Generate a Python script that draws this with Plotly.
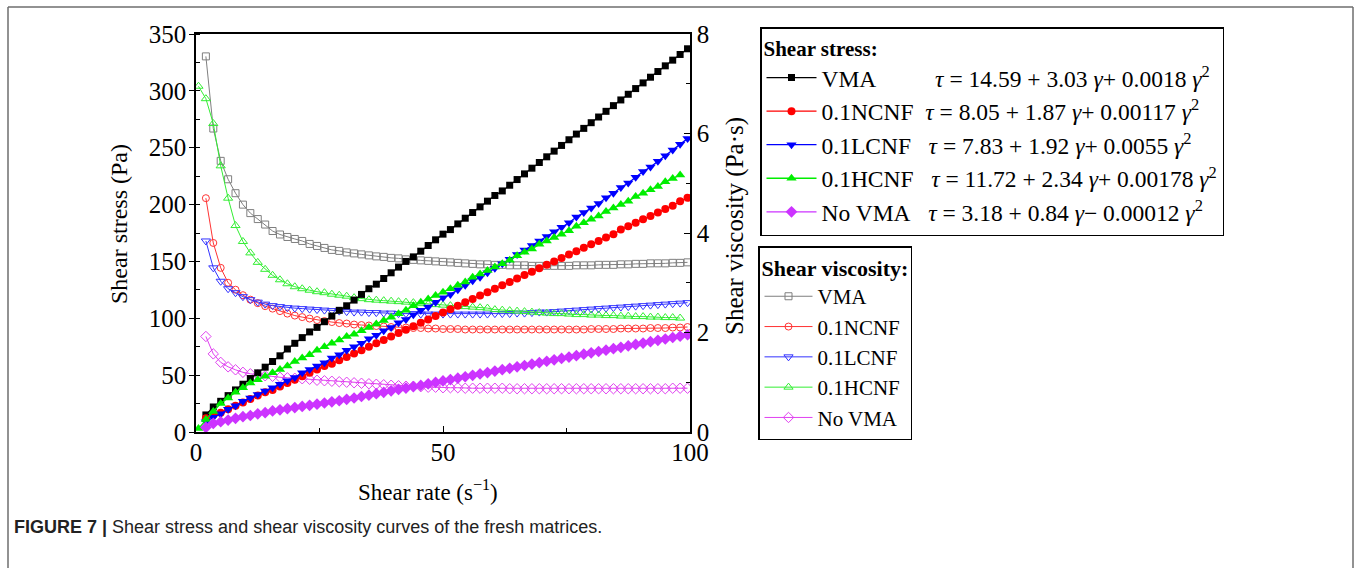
import plotly.graph_objects as go

# ---------------- data ----------------
shear_rate = [2, 3.5, 5, 6.5, 8, 9.5, 11, 12.5, 14, 15.5, 17,
              18.5, 20, 21.5, 23, 24.5, 26, 27.5, 29, 30.5, 32, 33.5,
              35, 36.5, 38, 39.5, 41, 42.5, 44, 45.5, 47, 48.5, 50,
              51.5, 53, 54.5, 56, 57.5, 59, 60.5, 62, 63.5, 65, 66.5,
              68, 69.5, 71, 72.5, 74, 75.5, 77, 78.5, 80, 81.5, 83,
              84.5, 86, 87.5, 89, 90.5, 92, 93.5, 95, 96.5, 98, 99.5]

shear_rate_hcnf = [0.5, 2, 3.5, 5, 6.5, 8, 9.5, 11, 12.5, 14, 15.5,
                   17, 18.5, 20, 21.5, 23, 24.5, 26, 27.5, 29, 30.5, 32,
                   33.5, 35, 36.5, 38, 39.5, 41, 42.5, 44, 45.5, 47, 48.5,
                   50, 51.5, 53, 54.5, 56, 57.5, 59, 60.5, 62, 63.5, 65,
                   66.5, 68, 69.5, 71, 72.5, 74, 75.5, 77, 78.5, 80, 81.5,
                   83, 84.5, 86, 87.5, 89, 90.5, 92, 93.5, 95, 96.5, 98]

# shear stress (Pa)
stress_vma = [15, 22, 27, 32, 37, 42, 47, 52, 57, 62, 67,
              73, 78, 83, 88, 92, 97, 102, 107, 111, 116, 121,
              126, 130, 135, 140, 145, 150, 154, 159, 164, 169, 174,
              178, 183, 188, 193, 198, 203, 208, 212, 217, 222, 227,
              232, 237, 242, 247, 252, 257, 262, 267, 272, 277, 282,
              287, 292, 297, 302, 307, 312, 317, 322, 327, 332, 337]
stress_ncnf = [12, 15, 17, 20, 23, 26, 29, 32, 35, 37, 40,
               43, 46, 49, 52, 55, 58, 60, 63, 66, 69, 72,
               75, 78, 81, 84, 87, 90, 93, 96, 99, 102, 105,
               108, 111, 114, 117, 120, 123, 126, 129, 132, 135, 138,
               141, 144, 147, 150, 153, 156, 159, 162, 165, 168, 171,
               174, 178, 181, 184, 187, 190, 193, 196, 199, 203, 206]
stress_lcnf = [9, 13, 16, 20, 23, 27, 30, 33, 36, 39, 42,
               45, 48, 52, 55, 58, 61, 65, 68, 72, 75, 78,
               82, 85, 89, 92, 96, 99, 103, 107, 110, 114, 118,
               121, 125, 129, 133, 136, 140, 144, 148, 152, 156, 160,
               164, 168, 172, 176, 180, 184, 189, 193, 197, 201, 206,
               210, 215, 219, 224, 229, 233, 238, 243, 248, 253, 258]
stress_hcnf = [3, 11, 18, 25, 30, 35, 39, 43, 46, 49, 52,
               55, 58, 62, 65, 68, 72, 75, 78, 81, 84, 86,
               89, 92, 95, 98, 101, 104, 107, 111, 114, 117, 120,
               123, 126, 129, 132, 136, 139, 142, 145, 148, 151, 155,
               158, 161, 165, 168, 171, 174, 177, 181, 184, 187, 190,
               194, 197, 200, 203, 207, 210, 213, 216, 220, 223, 226]
stress_novma = [4, 7.5, 9, 10.5, 12, 13.5, 14.5, 16, 17, 18.5, 19.5,
                20.5, 21.5, 22.5, 23.5, 24.5, 25.5, 26.5, 27.5, 28.7, 29.9, 31.2,
                32.4, 33.7, 34.9, 36.2, 37.4, 38.6, 39.9, 41, 42.4, 43.6, 44.9,
                46.1, 47.3, 48.6, 49.8, 51.1, 52.3, 53.6, 54.8, 56, 57.3, 58.5,
                59.7, 61, 62.2, 63.5, 64.7, 65.9, 67.1, 68.4, 69.6, 70.8, 72,
                73.3, 74.5, 75.7, 77, 78.2, 79.4, 80.6, 81.8, 83.1, 84.3, 85.5]

# shear viscosity (Pa·s)
visc_vma = [7.55, 6.1, 5.45, 5.08, 4.8, 4.57, 4.4, 4.28, 4.17, 4.04, 3.97,
            3.92, 3.88, 3.84, 3.78, 3.74, 3.7, 3.66, 3.64, 3.61, 3.59, 3.57,
            3.55, 3.53, 3.52, 3.5, 3.49, 3.47, 3.46, 3.45, 3.44, 3.43, 3.42,
            3.41, 3.4, 3.39, 3.38, 3.37, 3.37, 3.36, 3.36, 3.35, 3.35, 3.35,
            3.34, 3.34, 3.34, 3.34, 3.34, 3.34, 3.35, 3.35, 3.35, 3.36, 3.36,
            3.36, 3.37, 3.37, 3.38, 3.38, 3.39, 3.39, 3.39, 3.4, 3.4, 3.41]
visc_ncnf = [4.7, 3.8, 3.3, 3.0, 2.86, 2.75, 2.66, 2.59, 2.53, 2.48, 2.43,
             2.38, 2.34, 2.31, 2.28, 2.25, 2.23, 2.21, 2.19, 2.18, 2.16, 2.15,
             2.14, 2.13, 2.12, 2.11, 2.1, 2.1, 2.09, 2.09, 2.08, 2.08, 2.07,
             2.07, 2.07, 2.06, 2.06, 2.06, 2.06, 2.06, 2.06, 2.06, 2.06, 2.06,
             2.06, 2.06, 2.06, 2.06, 2.06, 2.06, 2.06, 2.06, 2.07, 2.07, 2.07,
             2.07, 2.08, 2.08, 2.08, 2.08, 2.09, 2.09, 2.09, 2.1, 2.1, 2.11]
visc_lcnf = [3.84, 3.3, 3.03, 2.88, 2.8, 2.72, 2.66, 2.61, 2.57, 2.54, 2.52,
             2.5, 2.49, 2.48, 2.47, 2.46, 2.45, 2.44, 2.43, 2.42, 2.41, 2.41,
             2.4, 2.4, 2.39, 2.39, 2.38, 2.38, 2.38, 2.37, 2.37, 2.37, 2.37,
             2.37, 2.37, 2.37, 2.37, 2.37, 2.37, 2.38, 2.38, 2.38, 2.39, 2.39,
             2.4, 2.41, 2.41, 2.42, 2.43, 2.44, 2.45, 2.46, 2.47, 2.48, 2.49,
             2.5, 2.51, 2.52, 2.53, 2.54, 2.55, 2.56, 2.57, 2.58, 2.59, 2.6]
visc_hcnf = [6.95, 6.7, 6.2, 5.35, 4.7, 4.15, 3.83, 3.6, 3.41, 3.27, 3.15,
             3.06, 2.98, 2.92, 2.88, 2.85, 2.82, 2.8, 2.77, 2.75, 2.73, 2.7,
             2.68, 2.66, 2.65, 2.64, 2.63, 2.62, 2.61, 2.6, 2.58, 2.57, 2.56,
             2.55, 2.54, 2.53, 2.52, 2.51, 2.5, 2.49, 2.46, 2.45, 2.44, 2.43,
             2.42, 2.41, 2.4, 2.39, 2.38, 2.38, 2.37, 2.36, 2.36, 2.35, 2.35,
             2.34, 2.34, 2.33, 2.33, 2.32, 2.32, 2.31, 2.31, 2.3, 2.3, 2.29]
visc_novma = [1.92, 1.57, 1.4, 1.31, 1.25, 1.2, 1.17, 1.15, 1.13, 1.12, 1.1,
              1.09, 1.08, 1.07, 1.06, 1.04, 1.03, 1.02, 1.01, 1.0, 0.99, 0.98,
              0.97, 0.96, 0.95, 0.94, 0.93, 0.92, 0.92, 0.91, 0.9, 0.9, 0.89,
              0.89, 0.89, 0.88, 0.88, 0.88, 0.88, 0.88, 0.88, 0.87, 0.87, 0.87,
              0.87, 0.87, 0.87, 0.87, 0.87, 0.87, 0.87, 0.87, 0.87, 0.87, 0.87,
              0.87, 0.87, 0.87, 0.87, 0.87, 0.87, 0.87, 0.87, 0.88, 0.88, 0.88]

names = ["VMA", "0.1NCNF", "0.1LCNF", "0.1HCNF", "No VMA"]
equations = [
    "<i>τ</i> = 14.59 + 3.03 <i>γ</i>+ 0.0018 <i>γ</i><sup>2</sup>",
    "<i>τ</i> = 8.05 + 1.87 <i>γ</i>+ 0.00117 <i>γ</i><sup>2</sup>",
    "<i>τ</i> = 7.83 + 1.92 <i>γ</i>+ 0.0055 <i>γ</i><sup>2</sup>",
    "<i>τ</i> = 11.72 + 2.34 <i>γ</i>+ 0.00178 <i>γ</i><sup>2</sup>",
    "<i>τ</i> = 3.18 + 0.84 <i>γ</i>− 0.00012 <i>γ</i><sup>2</sup>",
]
pads = [10, 2, 3, 3, 3]

# ---------------- styles ----------------
SERIF = "Liberation Serif, Times New Roman, serif"
stress_colors = ["#000000", "#ff0000", "#0000ff", "#00ee00", "#cc33ff"]
stress_symbols = ["square", "circle", "triangle-down", "triangle-up", "diamond"]
stress_sizes = [7, 8, 9, 9, 9]
visc_colors = ["#7f7f7f", "#ff3333", "#3333ff", "#33ee33", "#e040f0"]
visc_symbols = ["square-open", "circle-open", "triangle-down-open",
                "triangle-up-open", "diamond-open"]
visc_sizes = [7, 7, 8, 8, 8]

xs = [shear_rate, shear_rate, shear_rate, shear_rate_hcnf, shear_rate]
stress = [stress_vma, stress_ncnf, stress_lcnf, stress_hcnf, stress_novma]
visc = [visc_vma, visc_ncnf, visc_lcnf, visc_hcnf, visc_novma]

fig = go.Figure()

# viscosity on the base (right) axis -> drawn below
for i in range(5):
    fig.add_trace(go.Scatter(
        x=xs[i], y=visc[i], yaxis="y", mode="lines+markers",
        name=names[i], legend="legend2",
        line=dict(color=visc_colors[i], width=1),
        marker=dict(symbol=visc_symbols[i], size=visc_sizes[i],
                    color=visc_colors[i], line=dict(width=1, color=visc_colors[i])),
    ))

# stress on the overlaying (left) axis -> drawn on top
for i in range(5):
    fig.add_trace(go.Scatter(
        x=xs[i], y=stress[i], yaxis="y2", mode="lines+markers",
        name=names[i] + "\u00a0" * pads[i] + equations[i], legend="legend",
        line=dict(color=stress_colors[i], width=1.3),
        marker=dict(symbol=stress_symbols[i], size=stress_sizes[i],
                    color=stress_colors[i], line=dict(width=0)),
    ))

L, R, T, B = 196, 690, 34, 432
W, H = 1356, 568
pw, ph = R - L, B - T


def px(xp):
    return (xp - L) / pw


def py(yp):
    return (B - yp) / ph


tick_font = dict(family=SERIF, size=25, color="black")

fig.update_layout(
    width=W, height=H,
    margin=dict(l=L, r=W - R, t=T, b=H - B, pad=0),
    paper_bgcolor="white", plot_bgcolor="white",
    font=dict(family=SERIF, color="black"),
    xaxis=dict(
        range=[0, 100], tickvals=[0, 50, 100], showgrid=False, zeroline=False,
        showline=True, linecolor="black", linewidth=1.5, mirror=True,
        ticks="inside", ticklen=6, tickwidth=1.2, tickcolor="black",
        minor=dict(dtick=25, ticks="inside", ticklen=4, tickcolor="black", showgrid=False),
        tickfont=tick_font, ticklabelstandoff=-3,
    ),
    yaxis=dict(
        side="right", range=[0, 8], tickvals=[0, 2, 4, 6, 8], showgrid=False,
        zeroline=False, showline=True, linecolor="black", linewidth=1.5,
        ticks="inside", ticklen=6, tickwidth=1.2, tickcolor="black",
        minor=dict(dtick=1, ticks="inside", ticklen=4, tickcolor="black", showgrid=False),
        tickfont=tick_font,
    ),
    yaxis2=dict(
        side="left", overlaying="y", range=[0, 350], dtick=50, showgrid=False,
        zeroline=False, showline=True, linecolor="black", linewidth=1.5,
        ticks="outside", ticklen=5, tickwidth=1.2, tickcolor="black",
        minor=dict(dtick=25, ticks="inside", ticklen=4, tickcolor="black", showgrid=False),
        tickfont=tick_font, ticklabelstandoff=-2,
    ),
    legend=dict(
        x=px(760), y=py(27), xanchor="left", yanchor="top",
        bgcolor="white", bordercolor="black", borderwidth=1.5,
        font=dict(family=SERIF, size=23.5, color="black"),
        title=dict(text="<b>Shear stress:</b>", font=dict(family=SERIF, size=21)),
        itemwidth=50, tracegroupgap=0, traceorder="normal",
    ),
    legend2=dict(
        x=px(758), y=py(246), xanchor="left", yanchor="top",
        bgcolor="white", bordercolor="black", borderwidth=1.5,
        font=dict(family=SERIF, size=21, color="black"),
        title=dict(text="<b>Shear viscosity:</b>", font=dict(family=SERIF, size=22)),
        itemwidth=48, tracegroupgap=0, traceorder="normal",
    ),
)

# axis titles
fig.add_annotation(xref="paper", yref="paper", x=px(428), y=py(490),
                   xanchor="center", yanchor="middle", showarrow=False,
                   text="Shear rate (s<sup>−1</sup>)",
                   font=dict(family=SERIF, size=23, color="black"))
fig.add_annotation(xref="paper", yref="paper", x=px(119), y=py(224),
                   xanchor="center", yanchor="middle", showarrow=False, textangle=-90,
                   text="Shear stress (Pa)",
                   font=dict(family=SERIF, size=24, color="black"))
fig.add_annotation(xref="paper", yref="paper", x=px(735), y=py(226),
                   xanchor="center", yanchor="middle", showarrow=False, textangle=-90,
                   text="Shear viscosity (Pa·s)",
                   font=dict(family=SERIF, size=25, color="black"))

# outer figure frame (open at the bottom)
frame = [((8, 7), (8, H)), ((8, 7), (1353, 7)), ((1353, 7), (1353, H))]
for (x0, y0), (x1, y1) in frame:
    fig.add_shape(type="line", xref="paper", yref="paper",
                  x0=px(x0), y0=py(y0), x1=px(x1), y1=py(y1),
                  line=dict(color="#6e6e6e", width=1.5))

fig.add_annotation(
    xref="paper", yref="paper", x=px(12), y=py(527), xanchor="left", yanchor="middle",
    showarrow=False,
    text="<b>FIGURE 7 |</b> Shear stress and shear viscosity curves of the fresh matrices.",
    font=dict(family="Liberation Sans, Arial, sans-serif", size=18, color="#222222"),
)

fig.write_html("out.html")
